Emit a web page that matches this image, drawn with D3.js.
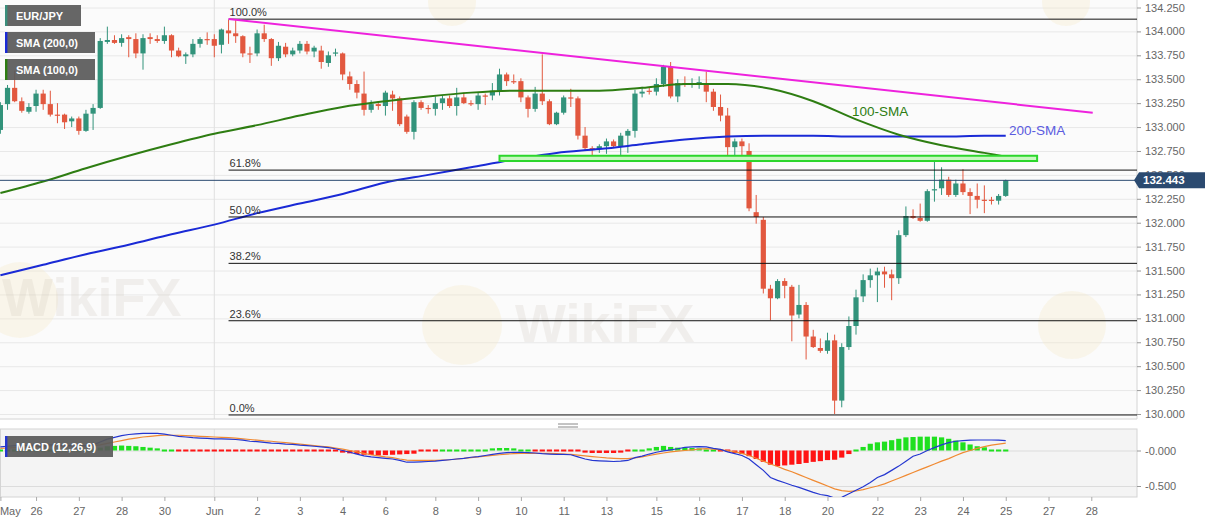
<!DOCTYPE html>
<html>
<head>
<meta charset="utf-8">
<script src="https://cdn.jsdelivr.net/npm/d3@7"></script>
<style>
  body { margin: 0; background: #fff; }
  svg text { font-family: "Liberation Sans", Arial, sans-serif; }
</style>
</head>
<body>
<div id="chart"></div>
<script>
// EUR/JPY 4H chart with SMA, fibo levels and MACD

// candles, one per 4 hours: [open, high, low, close]
const candles = [
  [132.97,133.26,132.93,133.23],[133.24,133.44,133.18,133.41],[133.41,133.59,133.26,133.27],[133.27,133.31,133.15,133.17],[133.16,133.25,133.14,133.21],
  [133.22,133.39,133.16,133.35],[133.35,133.39,133.18,133.24],[133.24,133.38,133.11,133.13],[133.13,133.25,133.04,133.12],[133.13,133.14,132.98,133.05],
  [133.06,133.11,133.00,133.09],[133.09,133.11,132.92,132.96],[132.96,133.18,132.95,133.14],[133.14,133.24,132.97,133.20],[133.20,133.93,133.19,133.90],
  [133.89,134.05,133.87,133.91],[133.91,133.96,133.87,133.88],[133.88,133.97,133.84,133.93],[133.94,133.96,133.73,133.92],[133.92,133.98,133.72,133.77],
  [133.77,133.97,133.60,133.93],[133.94,133.98,133.87,133.92],[133.92,133.96,133.88,133.90],[133.90,134.05,133.87,133.96],[133.96,133.97,133.73,133.80],
  [133.80,133.83,133.73,133.74],[133.74,133.78,133.66,133.76],[133.76,133.92,133.73,133.87],[133.87,133.94,133.83,133.92],[133.92,133.99,133.86,133.91],
  [133.92,133.97,133.73,133.85],[133.86,134.03,133.77,134.02],[134.01,134.12,133.87,133.98],[133.98,134.12,133.88,133.95],[133.95,133.96,133.73,133.77],
  [133.77,133.84,133.67,133.76],[133.77,134.02,133.74,133.98],[133.98,134.07,133.89,133.92],[133.92,133.93,133.64,133.72],[133.72,133.89,133.69,133.85],
  [133.84,133.88,133.73,133.76],[133.76,133.83,133.74,133.80],[133.80,133.90,133.77,133.87],[133.87,133.90,133.76,133.79],[133.79,133.85,133.73,133.83],
  [133.80,133.85,133.61,133.68],[133.67,133.79,133.63,133.75],[133.77,133.82,133.74,133.78],[133.77,133.78,133.49,133.55],[133.53,133.58,133.39,133.45],
  [133.45,133.49,133.30,133.36],[133.35,133.58,133.12,133.18],[133.18,133.28,133.15,133.24],[133.24,133.27,133.18,133.22],[133.22,133.38,133.12,133.36],
  [133.34,133.38,133.17,133.30],[133.30,133.32,133.01,133.03],[133.11,133.13,132.93,132.95],[132.95,133.28,132.87,133.26],[133.26,133.28,133.18,133.20],
  [133.20,133.23,133.14,133.19],[133.19,133.32,133.12,133.25],[133.25,133.33,133.18,133.30],[133.30,133.33,133.20,133.22],[133.22,133.41,133.12,133.31],
  [133.31,133.36,133.24,133.25],[133.25,133.28,133.22,133.24],[133.24,133.36,133.18,133.33],[133.33,133.35,133.23,133.32],[133.33,133.46,133.28,133.38],
  [133.38,133.61,133.33,133.55],[133.55,133.57,133.43,133.48],[133.48,133.55,133.45,133.47],[133.48,133.51,133.26,133.31],[133.31,133.33,133.10,133.19],
  [133.19,133.42,133.16,133.35],[133.35,133.76,133.23,133.27],[133.27,133.29,133.02,133.03],[133.03,133.16,133.02,133.15],[133.15,133.33,133.13,133.31],
  [133.31,133.40,133.21,133.30],[133.30,133.32,132.87,132.91],[132.91,133.00,132.75,132.78],[132.78,132.80,132.65,132.77],[132.77,132.82,132.73,132.80],
  [132.80,132.88,132.72,132.85],[132.85,132.87,132.78,132.80],[132.80,132.94,132.64,132.91],[132.91,132.98,132.73,132.96],[132.96,133.39,132.89,133.35],
  [133.35,133.42,133.31,133.37],[133.38,133.41,133.34,133.37],[133.37,133.51,133.33,133.45],[133.45,133.65,133.42,133.63],[133.63,133.68,133.30,133.32],
  [133.32,133.50,133.26,133.46],[133.46,133.53,133.42,133.44],[133.44,133.51,133.41,133.46],[133.45,133.53,133.40,133.47],[133.46,133.58,133.26,133.37],
  [133.37,133.40,133.17,133.21],[133.21,133.34,133.06,133.12],[133.12,133.20,132.68,132.79],[132.79,132.88,132.67,132.85],[132.85,132.88,132.69,132.80],
  [132.75,132.83,132.12,132.15],[132.11,132.29,131.99,132.06],[132.03,132.06,131.26,131.31],[131.31,131.35,130.98,131.21],[131.21,131.41,131.20,131.39],
  [131.39,131.42,131.21,131.34],[131.33,131.35,130.76,131.03],[131.04,131.35,131.00,131.14],[131.14,131.17,130.57,130.81],[130.81,130.88,130.69,130.70],
  [130.69,130.79,130.64,130.66],[130.66,130.85,130.63,130.77],[130.77,130.83,130.00,130.14],[130.14,130.74,130.07,130.70],[130.70,131.02,130.67,130.92],
  [130.92,131.30,130.83,131.22],[131.23,131.46,131.17,131.40],[131.40,131.52,131.32,131.45],[131.45,131.53,131.17,131.49],[131.49,131.54,131.32,131.46],
  [131.46,131.51,131.19,131.42],[131.42,131.92,131.36,131.87],[131.87,132.17,131.85,132.07],[132.07,132.14,132.04,132.05],[132.05,132.20,132.01,132.02],
  [132.02,132.35,132.01,132.33],[132.34,132.66,132.22,132.35],[132.36,132.58,132.29,132.45],[132.45,132.48,132.27,132.29],[132.29,132.45,132.27,132.41],
  [132.41,132.56,132.29,132.32],[132.32,132.36,132.09,132.28],[132.28,132.41,132.15,132.24],[132.24,132.39,132.10,132.23],[132.24,132.27,132.19,132.23],
  [132.23,132.30,132.19,132.28],[132.28,132.45,132.27,132.443]
];

// moving averages, read at these candle positions
const smaIdx = [0,6,12,18,24,30,36,42,48,54,60,66,72,78,84,90,96,102,108,114,120,126,132,138,141];
const sma200 = [131.45,131.56,131.67,131.77,131.88,131.98,132.10,132.20,132.30,132.42,132.50,132.58,132.66,132.73,132.77,132.82,132.87,132.90,132.91,132.91,132.90,132.90,132.90,132.91,132.91];
const sma100 = [132.31,132.43,132.57,132.70,132.82,132.93,133.02,133.12,133.21,133.27,133.32,133.36,133.38,133.38,133.38,133.41,133.45,133.45,133.40,133.27,133.08,132.92,132.81,132.73,132.69];

// MACD (12,26,9)
const macd = [
  0.05,0.06,0.07,0.07,0.07,0.075,0.08,0.08,0.075,0.07,
  0.07,0.065,0.07,0.08,0.12,0.16,0.185,0.21,0.225,0.235,
  0.24,0.24,0.24,0.23,0.215,0.2,0.19,0.18,0.175,0.17,
  0.165,0.165,0.16,0.155,0.145,0.13,0.125,0.115,0.105,0.1,
  0.09,0.085,0.075,0.07,0.06,0.05,0.04,0.025,0.0,-0.025,
  -0.05,-0.075,-0.09,-0.1,-0.11,-0.12,-0.14,-0.165,-0.165,-0.16,
  -0.155,-0.15,-0.14,-0.13,-0.12,-0.11,-0.095,-0.085,-0.07,-0.055,
  -0.04,-0.03,-0.025,-0.025,-0.03,-0.035,-0.045,-0.05,-0.055,-0.055,
  -0.06,-0.09,-0.12,-0.14,-0.145,-0.15,-0.155,-0.15,-0.14,-0.1,
  -0.08,-0.05,-0.025,-0.005,0.01,0.025,0.045,0.05,0.055,0.05,
  0.03,0.015,-0.02,-0.045,-0.07,-0.12,-0.2,-0.28,-0.38,-0.42,
  -0.455,-0.49,-0.52,-0.555,-0.59,-0.62,-0.635,-0.67,-0.66,-0.61,
  -0.56,-0.51,-0.45,-0.38,-0.34,-0.28,-0.22,-0.15,-0.08,-0.05,
  0.0,0.04,0.08,0.11,0.13,0.14,0.145,0.148,0.148,0.148,
  0.145,0.14
];
const signal = [
  0.03,0.035,0.04,0.045,0.05,0.055,0.06,0.065,0.065,0.065,
  0.065,0.065,0.065,0.07,0.08,0.1,0.12,0.14,0.16,0.175,
  0.19,0.2,0.21,0.215,0.215,0.215,0.21,0.205,0.2,0.195,
  0.19,0.185,0.18,0.175,0.165,0.155,0.145,0.135,0.13,0.12,
  0.11,0.1,0.09,0.08,0.07,0.06,0.05,0.035,0.02,0.0,
  -0.02,-0.04,-0.06,-0.075,-0.09,-0.1,-0.12,-0.135,-0.14,-0.14,
  -0.14,-0.14,-0.135,-0.13,-0.12,-0.11,-0.1,-0.09,-0.08,-0.07,
  -0.06,-0.05,-0.045,-0.04,-0.04,-0.04,-0.04,-0.04,-0.045,-0.05,
  -0.055,-0.065,-0.075,-0.085,-0.095,-0.105,-0.11,-0.115,-0.115,-0.105,
  -0.09,-0.07,-0.05,-0.035,-0.02,-0.01,0.0,0.01,0.02,0.025,
  0.02,0.01,0.0,-0.02,-0.04,-0.07,-0.11,-0.15,-0.19,-0.225,
  -0.265,-0.3,-0.34,-0.38,-0.42,-0.46,-0.5,-0.54,-0.565,-0.575,
  -0.57,-0.55,-0.525,-0.5,-0.47,-0.43,-0.39,-0.35,-0.31,-0.27,
  -0.23,-0.19,-0.15,-0.115,-0.07,-0.03,0.0,0.03,0.055,0.075,
  0.09,0.105
];
const hist = [
  0.02,0.02,0.025,0.025,0.02,0.02,0.02,0.015,0.01,0.005,
  0.005,0.0,0.005,0.01,0.04,0.06,0.065,0.07,0.065,0.06,
  0.05,0.04,0.03,0.015,0.005,-0.01,-0.015,-0.02,-0.02,-0.02,
  -0.02,-0.02,-0.02,-0.02,-0.02,-0.02,-0.02,-0.02,-0.02,-0.02,
  -0.02,-0.015,-0.015,-0.015,-0.015,-0.015,-0.015,-0.02,-0.03,-0.04,
  -0.05,-0.06,-0.065,-0.07,-0.065,-0.06,-0.055,-0.05,-0.045,-0.02,
  -0.015,-0.01,0.005,0.01,0.01,0.015,0.015,0.02,0.025,0.03,
  0.035,0.035,0.03,0.015,0.005,-0.005,-0.01,-0.015,-0.015,-0.015,
  -0.015,-0.025,-0.03,-0.035,-0.035,-0.035,-0.035,-0.03,-0.02,0.01,
  0.02,0.03,0.05,0.065,0.05,0.04,0.04,0.035,0.03,0.02,
  0.01,-0.01,-0.02,-0.035,-0.05,-0.08,-0.12,-0.16,-0.2,-0.22,
  -0.21,-0.2,-0.19,-0.175,-0.16,-0.15,-0.135,-0.13,-0.1,-0.05,
  0.01,0.05,0.095,0.115,0.125,0.145,0.165,0.185,0.19,0.195,
  0.195,0.195,0.185,0.165,0.14,0.115,0.085,0.06,0.045,0.025,
  0.025,0.02
];

// fibo retracement of the 134.13 -> 129.99 swing
const fibLabels = ["100.0%","61.8%","50.0%","38.2%","23.6%","0.0%"];
const fibPrices = [134.128,132.55,132.06,131.575,130.975,129.99];
const fibStart = 32;

// drawn studies: trend line and support zone (candle index, price)
const trendLine = [[32,134.13],[153.2,133.15]];
const zone = {from: 70, to: 145.4, top: 132.70, bottom: 132.645};
const lastPrice = 132.443;

// date axis
const dayIdx = [0,5,11,17,23,30,36,42,48,54,61,67,73,79,85,92,98,104,110,116,123,129,135,141,147,153];
const dayLabels = ["May","26","27","28","30","Jun","2","3","4","6","8","9","10","11","13","15","16","17","18","20","22","23","24","25","27","28"];
const macdTicks = [0, -0.5];
const macdTickLabels = ["-0.000","-0.500"];

const width = 1207, height = 526,
    plotR = 1137,
    mainB = 419,
    macdT = 429, macdB = 497;

const up = "#32937b", down = "#e2583f";

const svg = d3.select("#chart")
    .append("svg")
    .attr("width", width)
    .attr("height", height)
    .attr("viewBox", [0, 0, width, height]);

let x = d3.scaleLinear().domain([0, 153]).range([0.4, 1091.3]);
let y = d3.scaleLinear().domain([130, 134.25]).range([414, 7.5]);
let ym = d3.scaleLinear().domain([0, -0.5]).range([450.5, 486]);

// clip areas
const defs = svg.append("defs");
defs.append("clipPath").attr("id", "clipMain")
  .append("rect").attr("x", 0).attr("y", 0).attr("width", plotR).attr("height", mainB);
defs.append("clipPath").attr("id", "clipMacd")
  .append("rect").attr("x", 0).attr("y", macdT).attr("width", plotR).attr("height", macdB - macdT);

// panels
svg.append("rect").attr("x", 0).attr("y", 0).attr("width", plotR).attr("height", mainB)
  .attr("fill", "#fbfbfb");
svg.append("rect").attr("x", 0).attr("y", macdT).attr("width", plotR).attr("height", macdB - macdT)
  .attr("fill", "#f4f4f4");

// horizontal grid
svg.append("g")
  .attr("class", "grid")
  .call(d3.axisRight(y).tickValues(d3.range(130, 134.26, 0.25)).tickSize(plotR).tickFormat(""))
  .call(g => g.select(".domain").remove())
  .call(g => g.selectAll("line").attr("stroke", "#e8e8e8"));
svg.append("g")
  .call(d3.axisRight(ym).tickValues(macdTicks).tickSize(plotR).tickFormat(""))
  .call(g => g.select(".domain").remove())
  .call(g => g.selectAll("line").attr("stroke", "#dcdcdc"));

// month separator
[[0, mainB], [macdT, macdB]].forEach(([a, b]) => {
  svg.append("line").attr("x1", x(30)).attr("x2", x(30)).attr("y1", a).attr("y2", b)
    .attr("stroke", "#e0e0e0");
});

// faint watermarks
const wm = svg.append("g").attr("clip-path", "url(#clipMain)");
[[20, 300, 38], [462, 325, 40], [1072, 325, 34], [452, 2, 24], [1066, 2, 24]].forEach(([cx, cy, r]) => {
  wm.append("circle").attr("cx", cx).attr("cy", cy).attr("r", r)
    .attr("fill", "#f6e7c4").attr("opacity", 0.3);
});
[[2, 316], [515, 342]].forEach(([tx, ty]) => {
  wm.append("text").attr("x", tx).attr("y", ty)
    .attr("font-size", 54).attr("font-weight", "bold")
    .attr("fill", "#c9bfb2").attr("opacity", 0.2)
    .text("WikiFX");
});

// panel borders
svg.append("path")
  .attr("d", `M${plotR},0V${mainB}H0`)
  .attr("fill", "none").attr("stroke", "#d4d4d4");
svg.append("rect").attr("x", 0.5).attr("y", macdT).attr("width", plotR - 0.5).attr("height", macdB - macdT)
  .attr("fill", "none").attr("stroke", "#d4d4d4");

// resize handle between panels
[424, 427].forEach(hy => {
  svg.append("line").attr("x1", 558).attr("x2", 578).attr("y1", hy).attr("y2", hy)
    .attr("stroke", "#888").attr("stroke-width", 1);
});

const plot = svg.append("g").attr("clip-path", "url(#clipMain)");

// candles
const cg = plot.append("g");
candles.forEach((d, i) => {
  const [o, h, l, c] = d;
  const col = c >= o ? up : down;
  cg.append("line")
    .attr("x1", x(i)).attr("x2", x(i))
    .attr("y1", y(h)).attr("y2", y(l))
    .attr("stroke", col).attr("stroke-width", 1);
  const top = y(Math.max(o, c)), bot = y(Math.min(o, c));
  cg.append("rect")
    .attr("x", x(i) - 2.6).attr("width", 5.2)
    .attr("y", top).attr("height", Math.max(1.2, bot - top))
    .attr("fill", col);
});

// moving averages
let smaLine = vals => d3.line()
    .x((d, k) => x(smaIdx[k]))
    .y(d => y(d))
    .curve(d3.curveMonotoneX)(vals);

plot.append("path").attr("d", smaLine(sma200))
  .attr("fill", "none").attr("stroke", "#1a2ad6").attr("stroke-width", 2);
plot.append("path").attr("d", smaLine(sma100))
  .attr("fill", "none").attr("stroke", "#2e7d12").attr("stroke-width", 2);

// fibo levels
fibPrices.forEach((p, k) => {
  plot.append("line")
    .attr("x1", x(fibStart)).attr("x2", plotR)
    .attr("y1", y(p)).attr("y2", y(p))
    .attr("stroke", "#111").attr("stroke-width", 1);
  plot.append("text")
    .attr("x", x(fibStart) + 1).attr("y", y(p) - 3)
    .attr("font-size", 11).attr("fill", "#333")
    .text(fibLabels[k]);
});

// falling trend line
plot.append("line")
  .attr("x1", x(trendLine[0][0])).attr("y1", y(trendLine[0][1]))
  .attr("x2", x(trendLine[1][0])).attr("y2", y(trendLine[1][1]))
  .attr("stroke", "#ee22dd").attr("stroke-width", 2);

// support zone
plot.append("rect")
  .attr("x", x(zone.from)).attr("width", x(zone.to) - x(zone.from))
  .attr("y", y(zone.top)).attr("height", y(zone.bottom) - y(zone.top))
  .attr("fill", "#c8f7c0").attr("stroke", "#2bd62b").attr("stroke-width", 2);

// last price line
plot.append("line")
  .attr("x1", 0).attr("x2", plotR)
  .attr("y1", y(lastPrice)).attr("y2", y(lastPrice))
  .attr("stroke", "#2b4a70").attr("stroke-width", 1);

// study labels
plot.append("text").attr("x", 852).attr("y", y(133.112))
  .attr("font-size", 13.5).attr("fill", "#2e7d12").text("100-SMA");
plot.append("text").attr("x", 1009).attr("y", y(132.918))
  .attr("font-size", 13.5).attr("fill", "#5c5ce0").text("200-SMA");

// MACD panel
const mg = svg.append("g").attr("clip-path", "url(#clipMacd)");
hist.forEach((v, i) => {
  const y0 = ym(0), y1 = ym(v);
  const small = Math.abs(y1 - y0) < 2;
  mg.append("rect")
    .attr("x", x(i) - 2.6).attr("width", 5.2)
    .attr("y", small ? y0 - 1 : Math.min(y0, y1))
    .attr("height", small ? 2 : Math.abs(y1 - y0))
    .attr("fill", v >= 0 ? "#1fe01f" : "#ff1414");
});
let mline = d3.line().x((d, i) => x(i)).y(d => ym(d));
mg.append("path").datum(signal).attr("d", mline)
  .attr("fill", "none").attr("stroke", "#f08a32").attr("stroke-width", 1.2);
mg.append("path").datum(macd).attr("d", mline)
  .attr("fill", "none").attr("stroke", "#2436d0").attr("stroke-width", 1.2);

// legend boxes
let legend = (lx, ly, w, txt, stripe) => {
  svg.append("rect").attr("x", lx).attr("y", ly).attr("width", w).attr("height", 21)
    .attr("fill", "#5a5a5a").attr("opacity", 0.93);
  svg.append("rect").attr("x", lx).attr("y", ly).attr("width", 2.4).attr("height", 21)
    .attr("fill", stripe);
  svg.append("text").attr("x", lx + 11).attr("y", ly + 14.5)
    .attr("font-size", 11).attr("font-weight", "bold").attr("fill", "#fff").text(txt);
};
legend(5, 5, 76, "EUR/JPY", "#3a8f7c");
legend(5, 32, 90, "SMA (200,0)", "#1a2ad6");
legend(5, 59, 90, "SMA (100,0)", "#2e7d12");
legend(5, 436, 108, "MACD (12,26,9)", "#2436d0");

// price axis
svg.append("g")
  .attr("transform", `translate(${plotR},0)`)
  .call(d3.axisRight(y).tickValues(d3.range(130, 134.26, 0.25)).tickFormat(d3.format(".3f")).tickSize(4).tickPadding(4))
  .call(g => g.select(".domain").remove())
  .call(g => g.selectAll("line").attr("stroke", "#999"))
  .call(g => g.selectAll("text").attr("font-size", 11).attr("fill", "#666"));

// MACD axis
svg.append("g")
  .attr("transform", `translate(${plotR},0)`)
  .call(d3.axisRight(ym).tickValues(macdTicks).tickFormat((d, k) => macdTickLabels[k]).tickSize(4).tickPadding(4))
  .call(g => g.select(".domain").remove())
  .call(g => g.selectAll("line").attr("stroke", "#999"))
  .call(g => g.selectAll("text").attr("font-size", 11).attr("fill", "#666"));

// date axis
svg.append("g")
  .attr("transform", `translate(0,${macdB})`)
  .call(d3.axisBottom(x).tickValues(dayIdx).tickFormat((d, k) => dayLabels[k]).tickSize(4).tickPadding(6))
  .call(g => g.select(".domain").remove())
  .call(g => g.selectAll("line").attr("stroke", "#aaa"))
  .call(g => g.selectAll("text").attr("font-size", 11).attr("fill", "#666"))
  .call(g => g.selectAll(".tick").filter(d => x(d) < 12).select("text")
      .attr("text-anchor", "start").attr("x", -1));

// last price tag
const ly = y(lastPrice);
svg.append("path")
  .attr("d", `M${plotR - 3},${ly}L${plotR + 2},${ly - 8}H1205V${ly + 8}H${plotR + 2}Z`)
  .attr("fill", "#2b4a70");
svg.append("text").attr("x", plotR + 6).attr("y", ly + 4)
  .attr("font-size", 11.5).attr("font-weight", "bold").attr("fill", "#fff")
  .text(lastPrice.toFixed(3));
</script>
</body>
</html>
